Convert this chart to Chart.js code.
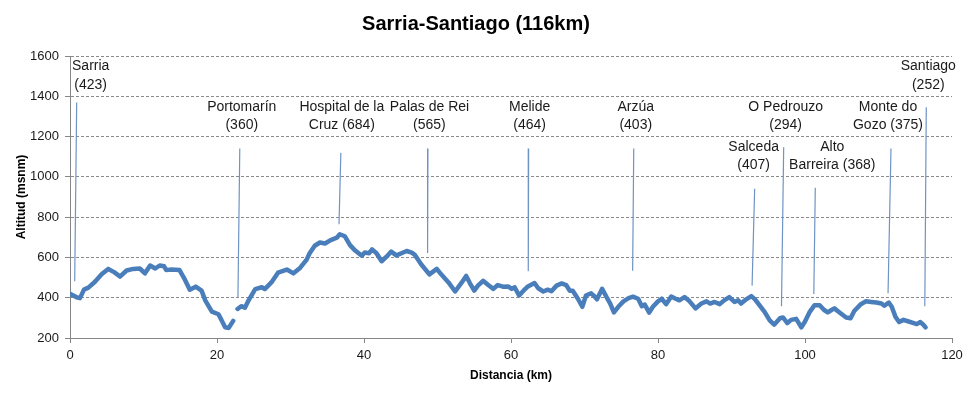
<!DOCTYPE html>
<html>
<head>
<meta charset="utf-8">
<script src="https://cdn.jsdelivr.net/npm/chart.js@4/dist/chart.umd.min.js"></script>
<style>
html,body{margin:0;padding:0;background:#fff;}
#wrap{width:969px;height:398px;}
</style>
</head>
<body>
<div id="wrap"><canvas id="c" width="969" height="398"></canvas></div>
<script>
// ---- data ----
const chartTitle = 'Sarria-Santiago (116km)';
const xAxisTitle = 'Distancia (km)';
const yAxisTitle = 'Altitud (msnm)';

const distanceKm = [0,0.45,0.9,1.36,1.9,2.5,3.4,4.3,5.2,6.0,6.8,7.7,8.6,9.5,10.2,10.9,11.6,12.2,12.8,13.1,13.8,14.9,15.6,16.3,17.1,17.9,18.4,19.3,20.2,20.6,21.1,21.6,22.2,
  22.5,
  22.8,23.3,23.8,24.3,25.2,26.1,26.5,27.4,28.3,29.5,30.4,31.3,32.2,32.6,33.3,34.0,34.7,35.4,36.3,36.7,37.4,38.1,38.8,39.7,40.1,40.7,41.1,41.7,42.4,43.1,43.7,44.4,45.1,45.8,46.5,46.9,47.8,48.9,49.9,50.5,51.5,52.4,53.3,53.9,54.4,55.0,55.5,56.2,56.9,57.6,58.2,58.9,59.6,60.1,60.5,61.1,61.7,62.3,63.2,63.7,64.4,65.0,65.5,66.2,66.9,67.5,68.0,68.4,69.1,69.7,70.2,70.9,71.4,71.7,72.4,73.0,73.5,74.0,74.6,75.3,76.0,76.6,77.3,77.8,78.2,78.8,79.3,80.0,80.5,81.1,81.8,82.4,82.9,83.6,84.3,85.1,85.9,86.6,87.1,87.7,88.4,89.0,89.7,90.4,90.9,91.3,92.0,92.7,93.2,93.8,94.5,95.2,95.8,96.6,97.0,97.6,98.1,98.8,99.5,100.0,100.6,101.3,102.0,102.6,103.1,103.6,104.0,104.7,105.6,106.2,106.7,107.6,108.3,109.0,109.7,110.4,110.8,111.4,111.8,112.3,112.8,113.4,114.1,114.8,115.2,115.7,116.1,116.4];
const altitudeM = [419,411,402,398,440,450,479,516,543,527,505,535,543,545,521,560,545,560,556,537,540,537,492,440,455,435,387,331,318,290,253,250,285,
  null,
  344,358,350,387,443,452,443,476,524,540,521,548,589,621,658,674,669,685,698,715,705,661,634,608,624,621,640,621,581,605,629,610,621,632,624,613,565,516,543,516,476,431,476,508,473,435,460,484,463,444,463,455,456,444,452,411,435,456,473,447,431,440,432,460,471,463,435,435,395,355,411,422,405,392,444,403,371,327,355,382,398,405,395,358,366,326,355,382,395,368,406,395,387,403,382,347,371,382,371,379,368,387,403,379,387,371,392,408,392,363,330,287,266,298,302,274,290,295,253,282,327,363,363,339,327,339,347,327,302,298,334,368,382,379,376,371,360,376,355,306,279,290,282,274,269,279,266,253];

const placeLines = [
  ['Sarria','(423)'],
  ['Portomarín','(360)'],
  ['Hospital de la','Cruz (684)'],
  ['Palas de Rei','(565)'],
  ['Melide','(464)'],
  ['Arzúa','(403)'],
  ['Salceda','(407)'],
  ['O Pedrouzo','(294)'],
  ['Alto','Barreira (368)'],
  ['Monte do','Gozo (375)'],
  ['Santiago','(252)']
];
const markerTopKm    = [0.91,23.1,36.85,48.7,62.4,76.7,93.15,97.1,101.4,111.7,116.5];
const markerBottomKm = [0.64,22.85,36.6,48.65,62.35,76.55,92.8,96.8,101.2,111.3,116.3];
const markerTopAlt    = [1369,1141,1119,1141,1141,1141,941,1147,946,1141,1345];
const markerBottomAlt = [482,403,765,622,531,534,460,358,419,422,358];

const xTickStep = 20, xMin = 0, xMax = 120;
const yTickStep = 200, yMin = 200, yMax = 1600;

// ---- label layout (pixels, relative to the top of each marker line) ----
const labelDx = [14,2,1,1.5,1,2,-1,2,17,-3,2];
const labelDy = [17.7,23.3,27.7,23.3,23.3,23.3,23.4,22,22.4,23.3,22.7];
const labelLineGap = 18.3;

// ---- build datasets ----
const profilePoints = distanceKm.map((x, i) => ({x: x, y: altitudeM[i]}));
const markerPoints = [];
for (let i = 0; i < markerTopKm.length; i++) {
  markerPoints.push({x: markerTopKm[i], y: markerTopAlt[i]});
  markerPoints.push({x: markerBottomKm[i], y: markerBottomAlt[i]});
  markerPoints.push({x: markerBottomKm[i], y: null});
}

const FONT = "'Liberation Sans', Arial, sans-serif";
Chart.defaults.font.family = FONT;
Chart.defaults.color = '#1a1a1a';

const labelPlugin = {
  id: 'placeLabels',
  afterDatasetsDraw(chart) {
    const ctx = chart.ctx;
    const xs = chart.scales.x, ys = chart.scales.y;
    ctx.save();
    ctx.font = "14px " + FONT;
    ctx.fillStyle = '#1a1a1a';
    ctx.textAlign = 'center';
    ctx.textBaseline = 'middle';
    placeLines.forEach((lines, i) => {
      const px = xs.getPixelForValue(markerTopKm[i]) + labelDx[i];
      const pyBottom = ys.getPixelForValue(markerTopAlt[i]) - labelDy[i];
      const n = lines.length;
      lines.forEach((t, j) => {
        ctx.fillText(t, px, pyBottom - (n - 1 - j) * labelLineGap);
      });
    });
    ctx.restore();
  }
};

new Chart(document.getElementById('c'), {
  type: 'line',
  data: {
    datasets: [
      {
        data: profilePoints,
        borderColor: '#4A7EBB',
        borderWidth: 4.5,
        pointRadius: 0,
        tension: 0,
        spanGaps: false,
        fill: false,
        borderJoinStyle: 'round',
        borderCapStyle: 'round'
      },
      {
        data: markerPoints,
        borderColor: '#6f93c4',
        borderWidth: 1.2,
        pointRadius: 0,
        tension: 0,
        spanGaps: false,
        fill: false
      }
    ]
  },
  options: {
    responsive: false,
    animation: false,
    parsing: true,
    layout: {padding: {left: 0, right: 17, top: 0, bottom: 0}},
    plugins: {
      legend: {display: false},
      tooltip: {enabled: false},
      title: {
        display: true,
        text: chartTitle,
        color: '#000',
        font: {size: 20, weight: 'bold', family: FONT},
        padding: {top: 12, bottom: 20}
      }
    },
    scales: {
      x: {
        type: 'linear',
        min: xMin, max: xMax,
        afterFit(scale) { scale.height = 60; },
        ticks: {stepSize: xTickStep, padding: 5, font: {size: 13}, color: '#1a1a1a', maxRotation: 0,
                callback: (v) => String(v)},
        grid: {drawOnChartArea: false, drawTicks: true, tickLength: 5, color: '#868686', tickColor: '#868686'},
        border: {display: true, color: '#868686', width: 1},
        title: {display: true, text: xAxisTitle, font: {size: 12, weight: 'bold'}, color: '#000', padding: {top: 0, bottom: 15}}
      },
      y: {
        type: 'linear',
        min: yMin, max: yMax,
        afterFit(scale) { scale.width = 70; },
        ticks: {stepSize: yTickStep, padding: 6, font: {size: 13}, color: '#1a1a1a',
                callback: (v) => String(v)},
        grid: {
          drawOnChartArea: true, drawTicks: true, tickLength: 5,
          color: (c) => (c.tick && c.tick.value === yMin) ? 'rgba(0,0,0,0)' : '#8a8a8a',
          tickColor: '#868686'
        },
        border: {display: true, color: '#868686', width: 1, dash: [3, 2]},
        title: {display: true, text: yAxisTitle, font: {size: 12, weight: 'bold'}, color: '#000', padding: {top: 14, bottom: 0}}
      }
    }
  },
  plugins: [labelPlugin]
});
</script>
</body>
</html>
